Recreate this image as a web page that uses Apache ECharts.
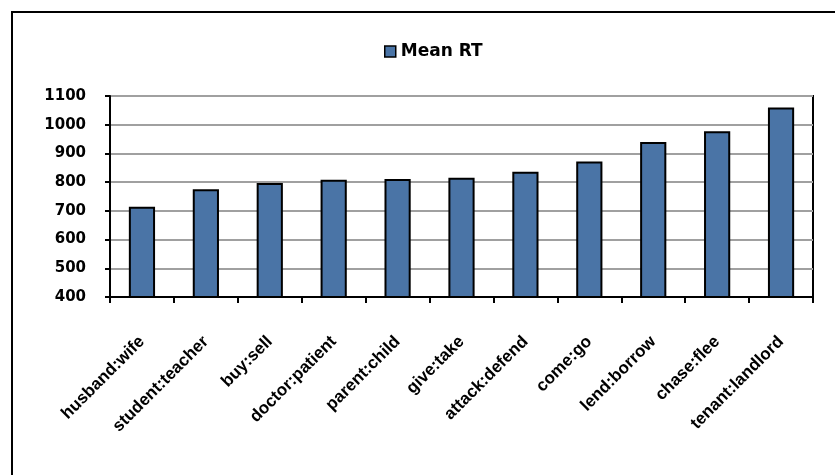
<!DOCTYPE html>
<html>
<head>
<meta charset="utf-8">
<script src="https://cdn.jsdelivr.net/npm/echarts@6/dist/echarts.min.js"></script>
<style>
  html, body { margin: 0; padding: 0; background: #fff; }
  #chart { width: 835px; height: 475px; }
</style>
</head>
<body>
<div id="chart"></div>
<script>
// Word pairs and their mean reaction times
const categories = [
  'husband:wife', 'student:teacher', 'buy:sell', 'doctor:patient',
  'parent:child', 'give:take', 'attack:defend', 'come:go',
  'lend:borrow', 'chase:flee', 'tenant:landlord'
];
const meanRT = [714, 775, 797, 808, 811, 815, 836, 872, 940, 977, 1060];
const seriesName = 'Mean RT';

const chart = echarts.init(document.getElementById('chart'), null, { renderer: 'canvas' });

chart.setOption({
  animation: false,
  backgroundColor: '#ffffff',
  legend: {
    left: 379,
    top: 38,
    itemWidth: 11,
    itemHeight: 11,
    itemGap: 5,
    icon: 'rect',
    data: [seriesName],
    itemStyle: { borderColor: '#000', borderWidth: 1.5 },
    textStyle: {
      fontFamily: 'DejaVu Sans',
      fontWeight: 'bold',
      fontSize: 17,
      color: '#000',
      padding: [0, 0, 0, 0]
    }
  },
  grid: {
    left: 110,
    right: 22,
    top: 96,
    bottom: 178,
    show: true,
    borderColor: '#000',
    borderWidth: 2,
    backgroundColor: 'transparent'
  },
  xAxis: {
    type: 'category',
    data: categories,
    axisLine: { lineStyle: { color: '#000', width: 2 } },
    axisTick: { show: true, length: 6, lineStyle: { color: '#000', width: 2 } },
    axisLabel: {
      rotate: 45,
      interval: 0,
      margin: 42,
      color: '#000',
      fontFamily: 'Liberation Sans',
      fontWeight: 'bold',
      fontSize: 17
    }
  },
  yAxis: {
    type: 'value',
    min: 400,
    max: 1100,
    interval: 100,
    axisLine: { show: true, lineStyle: { color: '#000', width: 2 } },
    axisTick: { show: true, length: 5, lineStyle: { color: '#000', width: 2 } },
    axisLabel: {
      margin: 24,
      color: '#000',
      fontFamily: 'DejaVu Sans',
      fontWeight: 'bold',
      fontSize: 15,
      formatter: (v) => String(v)
    },
    splitLine: { lineStyle: { color: '#a0a0a0', width: 2 } }
  },
  series: [{
    name: seriesName,
    type: 'bar',
    data: meanRT,
    barWidth: '41%',
    itemStyle: {
      color: '#4a74a6',
      borderColor: '#000',
      borderWidth: 2
    }
  }],
  graphic: [{
    type: 'rect',
    silent: true,
    shape: { x: 12, y: 12, width: 900, height: 600 },
    style: { fill: 'none', stroke: '#000', lineWidth: 2 }
  }]
});
</script>
</body>
</html>
